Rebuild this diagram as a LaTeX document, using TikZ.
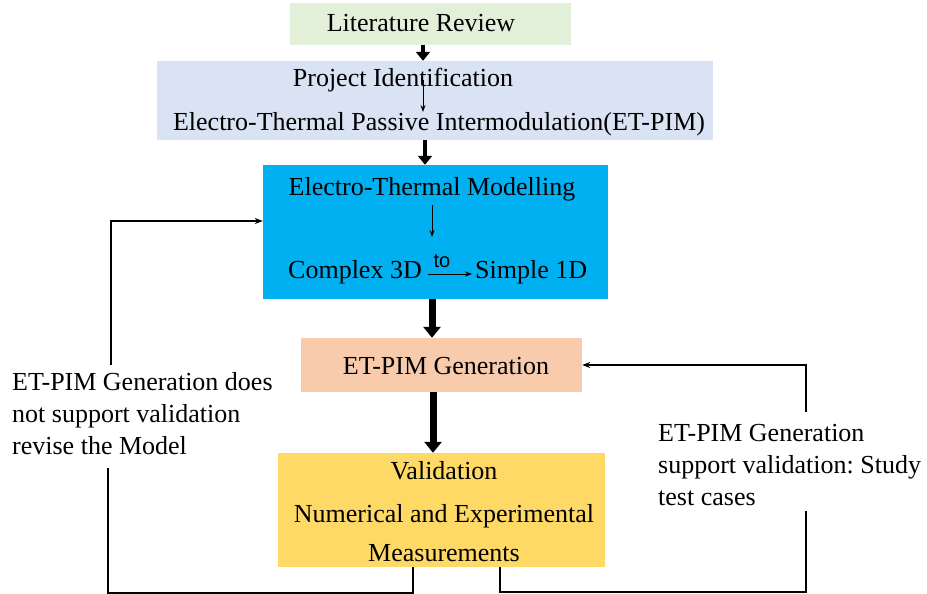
\documentclass[tikz,border=0pt]{standalone}
\usepackage{fontspec}
\setmainfont{Liberation Serif}
\newfontfamily\tofont{Liberation Sans}
\usetikzlibrary{arrows.meta}
\frenchspacing

\definecolor{litgreen}{HTML}{E2F0D9}
\definecolor{projblue}{HTML}{DAE3F3}
\definecolor{modcyan}{HTML}{00B0F0}
\definecolor{genpeach}{HTML}{F8CBAD}
\definecolor{valgold}{HTML}{FFD966}

\begin{document}
\begin{tikzpicture}[x=1pt,y=-1pt,
  stagebox/.style={rectangle,draw=none,inner sep=0pt},
  txt/.style={inner sep=0pt,anchor=base,font=\fontsize{26}{32}\selectfont},
  note/.style={inner sep=0pt,anchor=west,align=left,font=\fontsize{26}{32}\selectfont},
  flowarrow/.style={line width=4.5pt,-{Triangle[length=9pt,width=14pt]}},
  heavyarrow/.style={line width=7pt,-{Triangle[length=11pt,width=17pt]}},
  innerarrow/.style={line width=1pt,-{Stealth[length=7pt,width=5pt]}},
  fb/.style={line width=1.2pt},
  fbarrow/.style={line width=1.2pt,-{Stealth[length=8pt,width=6pt]}}]
\useasboundingbox (0,0) rectangle (927,594);

% stage boxes
\node[stagebox,fill=litgreen,minimum width=281pt,minimum height=42pt] (lr) at (430.5,24) {};
\node[stagebox,fill=projblue,minimum width=556pt,minimum height=79pt] (pid) at (435,100.5) {};
\node[stagebox,fill=modcyan,minimum width=345pt,minimum height=134pt] (etm) at (435.5,232) {};
\node[stagebox,fill=genpeach,minimum width=281pt,minimum height=54pt] (etp) at (441.5,365) {};
\node[stagebox,fill=valgold,minimum width=327pt,minimum height=114pt] (val) at (441.5,510) {};

% box texts
\node[txt] (lrt) at (421,32) {Literature Review};
\node[txt] (pid1) at (403,87) {Project Identification};
\node[txt] (pid2) at (439,131) {Electro-Thermal Passive Intermodulation(ET-PIM)};
\node[txt] (etm1) at (432,195) {Electro-Thermal Modelling};
\node[txt,anchor=base east] (etm2) at (422,278) {Complex 3D};
\node[txt,anchor=base west] (etm3) at (475,278) {Simple 1D};
\node[inner sep=0pt,anchor=base,font=\tofont\fontsize{20}{24}\selectfont] (tolbl) at (442,267) {to};
\node[txt] (etpt) at (446,374) {ET-PIM Generation};
\node[txt] (val1) at (444,479) {Validation};
\node[txt] (val2) at (444,522) {Numerical and Experimental};
\node[txt] (val3) at (444,561) {Measurements};

% side notes
\node[note] (lblL) at (12,414) {ET-PIM Generation does\\not support validation\\revise the Model};
\node[note] (lblR) at (658,465) {ET-PIM Generation\\support validation: Study\\test cases};

% inner arrows
\coordinate (pa) at (423,80);
\coordinate (pb) at (423,112);
\draw[innerarrow] (pa) -- (pb);
\coordinate (ma) at (432,205);
\coordinate (mb) at (432,237);
\draw[innerarrow] (ma) -- (mb);
\coordinate (ta) at (428,274);
\coordinate (tb) at (472,274);
\draw[innerarrow] (ta) -- (tb);

% main flow, each arrow on its own vertical line
\coordinate (f1) at (423,0);
\coordinate (f2) at (425,0);
\coordinate (f3) at (432,0);
\coordinate (f4) at (433,0);
\draw[flowarrow] (lr.south -| f1) -- (pid.north -| f1);
\draw[flowarrow] (pid.south -| f2) -- (etm.north -| f2);
\draw[heavyarrow] (etm.south -| f3) -- (etp.north -| f3);
\draw[heavyarrow] (etp.south -| f4) -- (val.north -| f4);

% feedback loop on the left
\coordinate (cL) at (108,593);
\coordinate (cT) at (111,221);
\coordinate (vL) at (413,0);
\draw[fb] (val.south -| vL) |- (cL) -- ([yshift=-13pt]lblL.south -| cL);
\draw[fbarrow] ([yshift=8pt]lblL.north -| cT) |- ([yshift=11pt]etm.west);

% feedback loop on the right
\coordinate (cR) at (806,592);
\coordinate (vR) at (500,0);
\draw[fb] (val.south -| vR) |- (cR) -- ([yshift=-5pt]lblR.south -| cR);
\draw[fbarrow] ([yshift=12pt]lblR.north -| cR) |- (etp.east);
\end{tikzpicture}
\end{document}
